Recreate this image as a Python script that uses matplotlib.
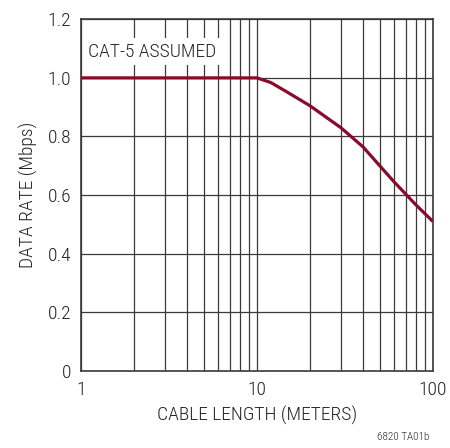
import numpy as np
import matplotlib
matplotlib.use('Agg')
import matplotlib.pyplot as plt
from matplotlib.ticker import FixedLocator, NullFormatter

plt.rcParams['font.family'] = ['Roboto Condensed', 'Liberation Sans', 'DejaVu Sans']
plt.rcParams['font.weight'] = 'light'
plt.rcParams['axes.labelweight'] = 'light'

# Data
cable_length = [1, 10, 12, 15, 20, 30, 40, 60, 80, 100]
data_rate = [1.0, 1.0, 0.984, 0.95, 0.905, 0.83, 0.765, 0.646, 0.567, 0.51]

x_ticks = [1, 10, 100]
x_tick_labels = ['1', '10', '100']
y_ticks = [0, 0.2, 0.4, 0.6, 0.8, 1.0, 1.2]
y_tick_labels = ['0', '0.2', '0.4', '0.6', '0.8', '1.0', '1.2']

fig = plt.figure(figsize=(4.5, 4.48), dpi=100)
ax = fig.add_axes([0.18, 0.172, 0.782, 0.785])

ax.plot(cable_length, data_rate, color='#890a2a', linewidth=2.3, solid_capstyle='butt', zorder=3)

ax.set_xscale('log')
ax.set_xlim(1, 100)
ax.set_ylim(0, 1.2)
ax.set_xticks(x_ticks)
ax.set_xticklabels(x_tick_labels)
ax.xaxis.set_minor_locator(FixedLocator([m * d for d in (1, 10) for m in range(2, 10)]))
ax.xaxis.set_minor_formatter(NullFormatter())
ax.set_yticks(y_ticks)
ax.set_yticklabels(y_tick_labels)

ax.grid(True, which='both', color='#3a3a3a', linewidth=0.9)
ax.tick_params(which='both', length=0, labelsize=14, colors='#222222', pad=7)
for s in ax.spines.values():
    s.set_color('#3a3a3a')
    s.set_linewidth(1.2)

ax.set_xlabel('CABLE LENGTH (METERS)', fontsize=14, color='#222222', labelpad=5)
ax.set_ylabel('DATA RATE (Mbps)', fontsize=14, color='#222222', labelpad=7)

ax.text(1.1, 1.09, 'CAT-5 ASSUMED', fontsize=14, color='#222222', va='center', ha='left',
        bbox=dict(facecolor='white', edgecolor='none', pad=3), zorder=4)

fig.text(0.955, 0.025, '6820 TA01b', fontsize=8, color='#222222', ha='right', va='center')

fig.savefig('out.png', dpi=100)
